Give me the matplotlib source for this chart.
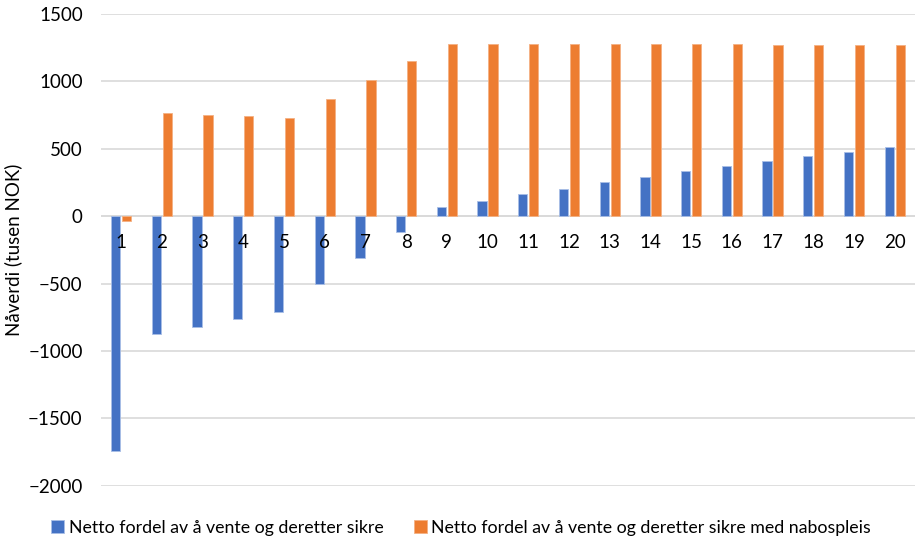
import numpy as np
from matplotlib import pyplot as plt

plt.rcParams['font.family'] = ['Lato', 'DejaVu Sans']

# år og nåverdier (tusen NOK)
years = [str(i) for i in range(1, 21)]
sikre = [-1745, -878, -821, -764, -709, -507, -309, -119, 67, 114,
         161, 205, 250, 292, 332, 371, 406, 443, 475, 510]
sikre_nabo = [-35, 764, 752, 740, 730, 873, 1012, 1148, 1281, 1280,
              1279, 1278, 1277, 1276, 1275, 1274, 1273, 1272, 1271, 1270]

blue = '#4472c4'
orange = '#ed7d31'
grid = '#d9d9d9'
fs = 13.5

fig = plt.figure(figsize=(9.16, 5.39), dpi=100)
ax = fig.add_axes([0.110, 0.099, 0.889, 0.875])

x = np.arange(len(years))
w = 0.23
ax.bar(x - w / 2 - 0.02, sikre, w, color=blue, edgecolor='#a9bfe6', linewidth=0.6,
       label='Netto fordel av å vente og deretter sikre', zorder=3)
ax.bar(x + w / 2 + 0.02, sikre_nabo, w, color=orange, edgecolor='#f4b183', linewidth=0.6,
       label='Netto fordel av å vente og deretter sikre med nabospleis', zorder=3)

ax.set_xlim(-0.5, len(years) - 0.5)
ax.set_ylim(-2000, 1500)
ax.set_yticks(range(-2000, 1501, 500))
ax.yaxis.grid(True, color=grid, linewidth=1.2, zorder=0)
ax.axhline(0, color=grid, linewidth=1.2, zorder=1)
ax.set_xticks([])
for s in ax.spines.values():
    s.set_visible(False)
ax.tick_params(axis='y', length=0, labelsize=fs, pad=13, colors='#000000')

# kategorietiketter rett under nullinjen
for xi, lab in zip(x, years):
    ax.annotate(lab, (xi, 0), xytext=(0, -19), textcoords='offset points',
                ha='center', va='center', fontsize=fs)

ax.set_ylabel('Nåverdi (tusen NOK)', fontsize=fs, labelpad=4)

fig.legend(loc='lower left', bbox_to_anchor=(0.038, -0.024), ncol=2, frameon=False,
           fontsize=12.8, handlelength=0.75, handleheight=0.75, handletextpad=0.25,
           columnspacing=1.7)

plt.savefig('out.png', dpi=100)
